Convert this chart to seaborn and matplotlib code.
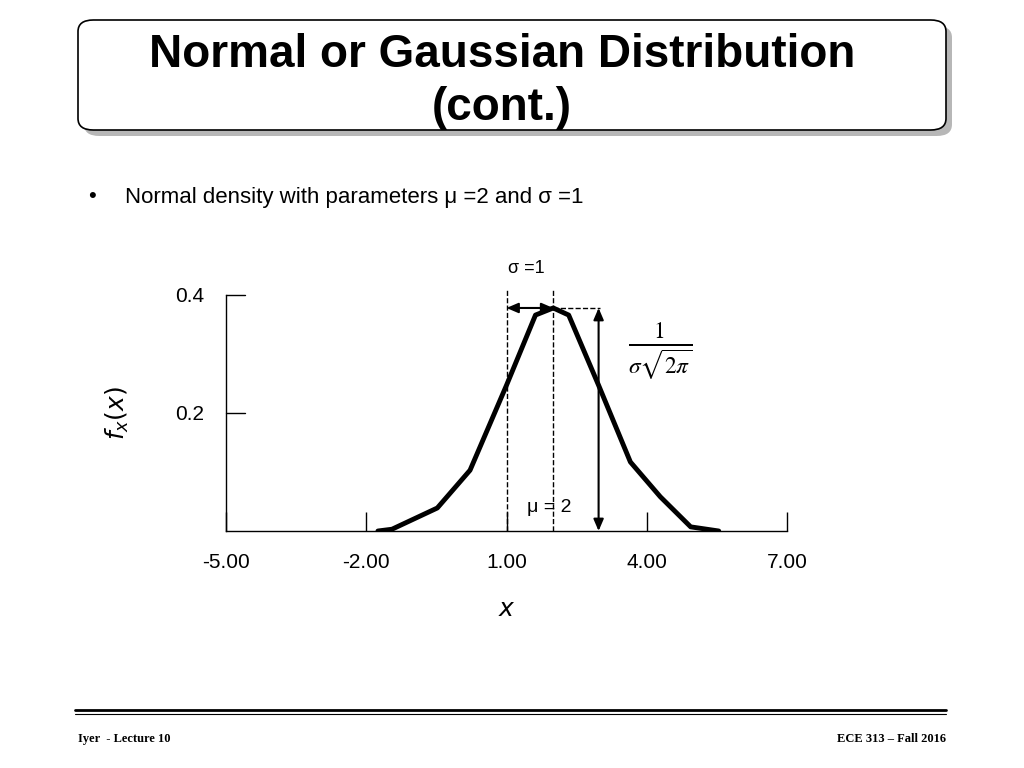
import matplotlib
matplotlib.use("Agg")
import matplotlib.pyplot as plt
import seaborn as sns
import pandas as pd
from matplotlib.patches import FancyBboxPatch

sns.set_style("white")
plt.rcParams['font.family'] = ['Liberation Sans', 'DejaVu Sans']
plt.rcParams['text.color'] = 'black'
plt.rcParams['axes.labelcolor'] = 'black'
plt.rcParams['xtick.color'] = 'black'
plt.rcParams['ytick.color'] = 'black'

x_vals = [-1.75, -1.45, -0.48, 0.22, 1.0, 1.62, 2.0, 2.33, 2.97, 3.65, 4.29, 4.94, 5.54]
y_vals = [0.0, 0.003, 0.039, 0.103, 0.247, 0.366, 0.378, 0.366, 0.247, 0.117, 0.058, 0.007, 0.0]
x_ticks = [-5, -2, 1, 4, 7]
x_tick_labels = ["-5.00", "-2.00", "1.00", "4.00", "7.00"]
y_ticks = [0.2, 0.4]
y_tick_labels = ["0.2", "0.4"]
mu, sigma, peak = 2, 1, 0.378

W, H = 1024, 768
fig = plt.figure(figsize=(10.24, 7.68), dpi=100)

def fx(px): return px / W
def fy(py): return 1 - py / H

shadow = FancyBboxPatch((fx(84), fy(136)), fx(868), (110) / H, boxstyle="round,pad=0,rounding_size=0.015",
                        transform=fig.transFigure, fc="#888888", ec="none", alpha=0.6)
box = FancyBboxPatch((fx(78), fy(130)), fx(868), (110) / H, boxstyle="round,pad=0,rounding_size=0.015",
                     transform=fig.transFigure, fc="white", ec="black", lw=1.2)
fig.patches.extend([shadow, box])
fig.text(fx(502), fy(55), "Normal or Gaussian Distribution", ha="center", va="center",
         fontsize=33, fontweight="bold")
fig.text(fx(502), fy(108), "(cont.)", ha="center", va="center", fontsize=33, fontweight="bold")

fig.text(fx(88), fy(197), "•", ha="left", va="center", fontsize=16)
fig.text(fx(125), fy(197), "Normal density with parameters μ =2 and σ =1",
         ha="left", va="center", fontsize=16)

fig.add_artist(plt.Line2D([fx(75), fx(946)], [fy(710), fy(710)], color="black", lw=2, transform=fig.transFigure))
fig.add_artist(plt.Line2D([fx(75), fx(946)], [fy(714), fy(714)], color="black", lw=0.8, transform=fig.transFigure))
fig.text(fx(78), fy(739), "Iyer  - Lecture 10", fontsize=9, fontweight="bold", family="Liberation Serif", va="center")
fig.text(fx(946), fy(739), "ECE 313 – Fall 2016", fontsize=9, fontweight="bold", family="Liberation Serif",
         va="center", ha="right")

ax = fig.add_axes([fx(226), fy(531), fx(787) - fx(226), (531 - 295) / H])
df = pd.DataFrame({"x": x_vals, "y": y_vals})
sns.lineplot(data=df, x="x", y="y", ax=ax, color="black", lw=3.5, sort=False)
ax.set_xlim(-5, 7)
ax.set_ylim(0, 0.4)
ax.set_xticks(x_ticks)
ax.set_xticklabels(x_tick_labels, fontsize=15)
ax.set_yticks(y_ticks)
ax.set_yticklabels(y_tick_labels, fontsize=15)
ax.tick_params(axis="x", direction="in", length=14, width=1, pad=16, bottom=True)
ax.tick_params(axis="y", direction="out", length=0, pad=16, left=True)
for yt in y_ticks:
    ax.plot([-5, -4.6], [yt, yt], color="black", lw=1, clip_on=False)
for s in ["top", "right"]:
    ax.spines[s].set_visible(False)
for s in ["left", "bottom"]:
    ax.spines[s].set_color("black")
    ax.spines[s].set_linewidth(1)
ax.set_xlabel("$x$", fontsize=18, labelpad=18)
ax.set_ylabel("$f_x(x)$", fontsize=18, labelpad=4)
ax.yaxis.set_label_coords(-0.17, 0.5)

ax.plot([mu - sigma] * 2, [0, 0.408], ls="--", color="black", lw=1, clip_on=False)
ax.plot([mu] * 2, [0, 0.408], ls="--", color="black", lw=1, clip_on=False)
ax.plot([mu, mu + sigma], [peak, peak], ls="--", color="black", lw=1)
ax.annotate("", xy=(mu - sigma, peak), xytext=(mu, peak),
            arrowprops=dict(arrowstyle="<|-|>,head_length=0.7,head_width=0.3", color="black", lw=1.5, shrinkA=0, shrinkB=0))
ax.annotate("", xy=(2.97, 0), xytext=(2.97, peak),
            arrowprops=dict(arrowstyle="<|-|>,head_length=0.7,head_width=0.3", color="black", lw=1.5, shrinkA=0, shrinkB=0))
ax.text(1.42, 0.445, "σ =1", fontsize=13, ha="center", va="center", clip_on=False)
ax.text(1.43, 0.04, "μ = 2", fontsize=14, ha="left", va="center")
ax.text(3.6, 0.305, "$\\frac{1}{\\sigma\\sqrt{2\\pi}}$", fontsize=24, ha="left", va="center",
        math_fontfamily="stix")

fig.savefig("out.png", dpi=100)
